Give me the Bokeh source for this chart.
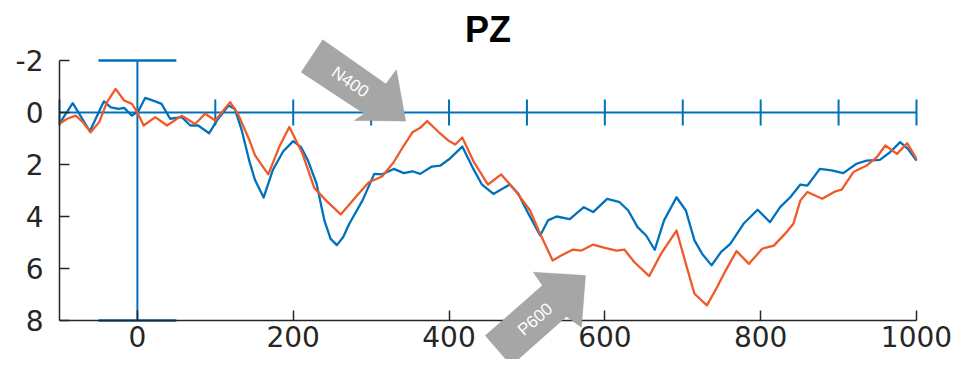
from bokeh.plotting import figure
from bokeh.models import Range1d, FixedTicker, PolyAnnotation, Label
from bokeh.embed import file_html
from bokeh.resources import INLINE

# ---- data (ms, microvolts; negative plotted up) ----
blue_t = [-100, -83, -61, -43, -34, -24, -17, -7, 1, 10, 23, 31, 42, 57, 68, 78, 92, 102,
          117, 125, 134, 144, 151, 162, 174, 187, 200, 210, 219, 230, 240, 248, 256, 264,
          272, 289, 304, 314, 329, 342, 353, 363, 378, 389, 400, 417, 430, 442, 457, 468,
          478, 489, 502, 517, 527, 538, 555, 573, 585, 603, 619, 630, 642, 653, 664, 676,
          692, 704, 715, 725, 737, 749, 761, 778, 796, 812, 825, 838, 851, 860, 876, 891,
          906, 923, 936, 953, 966, 979, 989, 1000]
blue_v = [0.43, -0.36, 0.72, -0.43, -0.2, -0.14, -0.18, 0.12, -0.04, -0.56, -0.43, -0.33,
          0.24, 0.18, 0.5, 0.5, 0.8, 0.31, -0.27, -0.14, 0.69, 1.9, 2.6, 3.27, 2.2, 1.5,
          1.1, 1.33, 1.85, 2.74, 4.15, 4.86, 5.1, 4.8, 4.28, 3.38, 2.36, 2.38, 2.17, 2.33,
          2.26, 2.36, 2.08, 2.04, 1.8, 1.31, 2.1, 2.76, 3.13, 2.94, 2.77, 3.13, 3.9, 4.73,
          4.15, 4.0, 4.1, 3.64, 3.83, 3.32, 3.45, 3.77, 4.41, 4.73, 5.28, 4.15, 3.26, 3.77,
          4.92, 5.44, 5.88, 5.37, 5.05, 4.28, 3.74, 4.22, 3.64, 3.26, 2.77, 2.81, 2.17,
          2.23, 2.33, 1.97, 1.85, 1.82, 1.53, 1.14, 1.4, 1.85]

orange_t = [-100, -90, -79, -70, -60, -49, -39, -28, -17, -7, 0, 8, 23, 38, 57, 74, 87, 100,
            119, 129, 144, 151, 168, 182, 195, 212, 227, 242, 261, 280, 297, 314, 329, 342,
            353, 363, 372, 387, 400, 408, 417, 432, 450, 467, 485, 504, 515, 533, 544, 559,
            570, 585, 600, 615, 625, 638, 657, 672, 692, 704, 715, 731, 744, 755, 769, 785,
            802, 817, 832, 842, 851, 860, 879, 896, 904, 919, 936, 949, 960, 975, 988, 1000]
orange_v = [0.43, 0.24, 0.12, 0.37, 0.76, 0.37, -0.4, -0.91, -0.46, -0.33, 0.0, 0.5, 0.18,
            0.5, 0.12, 0.44, 0.05, 0.31, -0.4, 0.05, 1.08, 1.65, 2.38, 1.33, 0.56, 1.59,
            2.9, 3.38, 3.92, 3.26, 2.68, 2.46, 1.91, 1.27, 0.76, 0.59, 0.33, 0.76, 1.1,
            1.23, 0.96, 1.91, 2.77, 2.38, 3.0, 3.77, 4.54, 5.69, 5.5, 5.27, 5.31, 5.08,
            5.21, 5.31, 5.27, 5.76, 6.29, 5.44, 4.54, 5.82, 6.97, 7.42, 6.72, 6.08, 5.33,
            5.82, 5.24, 5.12, 4.64, 4.28, 3.38, 3.06, 3.32, 3.03, 2.97, 2.29, 2.04, 1.72,
            1.27, 1.59, 1.18, 1.78]

x_ticks = [0, 200, 400, 600, 800, 1000]
y_ticks = [-2, 0, 2, 4, 6, 8]
zero_line_ticks = [-100, 100, 200, 300, 400, 500, 600, 700, 800, 900, 1000]
t_start, t_end = -100, 1000      # epoch
v_top, v_bottom = -2, 8          # amplitude window

BLUE = "#0072BD"
ORANGE = "#F0592A"
AXIS = "#262626"

# frame covers the whole canvas; axes are pinned at the epoch edges
p = figure(width=953, height=359, title=None,
           x_range=Range1d(-175.7, 1047.5), y_range=Range1d(9.5, -4.308),
           output_backend="svg", toolbar_location=None,
           min_border_left=0, min_border_right=0, min_border_top=0, min_border_bottom=0)
p.outline_line_color = None
p.grid.visible = False
p.background_fill_color = "white"

for ax, ticks in ((p.xaxis, x_ticks), (p.yaxis, y_ticks)):
    ax.ticker = FixedTicker(ticks=ticks)
    ax.major_label_overrides = {t: str(t) for t in ticks}
    ax.axis_line_color = AXIS
    ax.axis_line_width = 1.5
    ax.major_tick_line_color = AXIS
    ax.major_tick_line_width = 1.5
    ax.major_tick_in = 10
    ax.major_tick_out = 0
    ax.minor_tick_line_color = None
    ax.major_label_text_font = "DejaVu Sans"
    ax.major_label_text_font_size = "28px"
    ax.major_label_text_color = AXIS
p.xaxis.fixed_location = v_bottom
p.xaxis.bounds = (t_start, t_end)
p.yaxis.fixed_location = t_start
p.yaxis.bounds = (v_top, v_bottom)
p.xaxis.major_label_standoff = 5
p.yaxis.major_label_standoff = 16

# ---- title ----
p.add_layout(Label(x=(t_start + t_end) / 2, y=-3.2, text="PZ", text_font="Liberation Sans",
                   text_font_size="36px", text_font_style="bold", text_color="black",
                   text_align="center", text_baseline="alphabetic"))

# ---- blue crosshair (zero line with ticks, time-zero line with caps) ----
p.segment(x0=[t_start], y0=[0], x1=[t_end], y1=[0], line_color=BLUE, line_width=2)
p.segment(x0=zero_line_ticks, y0=[-0.5] * len(zero_line_ticks),
          x1=zero_line_ticks, y1=[0.5] * len(zero_line_ticks), line_color=BLUE, line_width=2)
p.segment(x0=[0], y0=[v_top], x1=[0], y1=[v_bottom], line_color=BLUE, line_width=2)
p.segment(x0=[-50, -50], y0=[v_top, v_bottom], x1=[50, 50], y1=[v_top, v_bottom],
          line_color=BLUE, line_width=2.5)

# ---- waveforms ----
p.line(blue_t, blue_v, line_color=BLUE, line_width=2.3, line_join="round")
p.line(orange_t, orange_v, line_color=ORANGE, line_width=2.3, line_join="round")

# ---- annotation arrows ----
n400_xs = [237.9, 210.3, 291.2, 278.4, 344.4, 332.4, 318.9]
n400_ys = [-2.80, -1.55, 0.05, 0.31, 0.33, -1.64, -1.10]
p600_xs = [479.8, 446.6, 519.8, 508.3, 575.1, 570.0, 550.8]
p600_ys = [9.73, 8.58, 6.65, 6.14, 6.27, 8.26, 7.85]
for xs, ys in ((n400_xs, n400_ys), (p600_xs, p600_ys)):
    p.add_layout(PolyAnnotation(xs=xs, ys=ys, fill_color="#A6A6A6", fill_alpha=1.0,
                                line_color="#808080", line_width=1, level="overlay"))
p.add_layout(Label(x=273, y=-1.17, text="N400", angle=-0.605, text_color="white",
                   text_font="Liberation Sans", text_font_size="17px",
                   text_align="center", text_baseline="middle", level="overlay"))
p.add_layout(Label(x=510.5, y=7.96, text="P600", angle=0.71, text_color="white",
                   text_font="Liberation Sans", text_font_size="17px",
                   text_align="center", text_baseline="middle", level="overlay"))

open("out.html", "w").write(file_html(p, INLINE))
